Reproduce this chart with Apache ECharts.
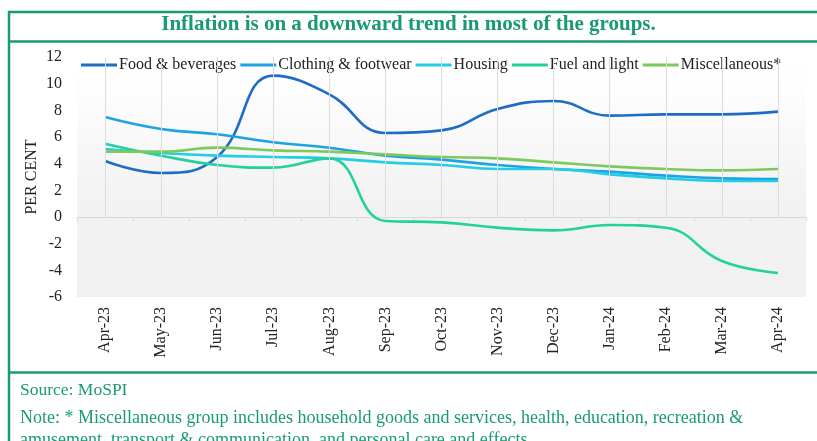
<!DOCTYPE html>
<html>
<head>
<meta charset="utf-8">
<script src="https://cdn.jsdelivr.net/npm/echarts@6/dist/echarts.min.js"></script>
<style>
  html, body { margin: 0; padding: 0; background: #fff; }
  #chart { width: 817px; height: 441px; }
</style>
</head>
<body>
<div id="chart"></div>
<script>
// months on the x axis
var months = ['Apr-23', 'May-23', 'Jun-23', 'Jul-23', 'Aug-23', 'Sep-23', 'Oct-23',
  'Nov-23', 'Dec-23', 'Jan-24', 'Feb-24', 'Mar-24', 'Apr-24']
var yTicks = [-6, -4, -2, 0, 2, 4, 6, 8, 10, 12]

// inflation by group, per cent
var food = [4.2, 3.3, 4.5, 10.6, 9.2, 6.3, 6.5, 8.1, 8.7, 7.6, 7.7, 7.7, 7.9]
var clothing = [7.5, 6.6, 6.2, 5.6, 5.2, 4.6, 4.3, 3.9, 3.6, 3.4, 3.1, 2.9, 2.85]
var housing = [5.1, 4.8, 4.6, 4.5, 4.4, 4.1, 3.9, 3.6, 3.6, 3.2, 2.9, 2.7, 2.7]
var fuel = [5.5, 4.6, 3.9, 3.7, 4.4, -0.3, -0.4, -0.8, -1.0, -0.6, -0.8, -3.3, -4.2]
var misc = [4.9, 4.9, 5.2, 5.0, 4.9, 4.7, 4.5, 4.4, 4.1, 3.8, 3.6, 3.5, 3.6]

var green = '#1a9a74'
var serif = '"Liberation Serif", "Times New Roman", serif'

var chart = echarts.init(document.getElementById('chart'))

function line (name, data, color) {
  return {
    name: name,
    type: 'line',
    data: data,
    smooth: 0.45,
    symbol: 'none',
    lineStyle: { width: 2.6, color: color },
    itemStyle: { color: color }
  }
}

// faint vertical grid lines at each month, drawn from 0 up to the top
var vLines = months.map(function (m) {
  return [{ coord: [m, 0] }, { coord: [m, yTicks[yTicks.length - 1]] }]
})

var series = [
  line('Food & beverages', food, '#1f6cc4'),
  line('Clothing & footwear', clothing, '#1da2e4'),
  line('Housing', housing, '#23cde3'),
  line('Fuel and light', fuel, '#22d19c'),
  line('Miscellaneous*', misc, '#7dc95c')
]
series[0].markLine = {
  silent: true,
  symbol: 'none',
  label: { show: false },
  lineStyle: { color: '#dcdcdc', width: 1, type: 'solid' },
  data: vLines
}
series[0].z = 3

var option = {
  animation: false,
  backgroundColor: '#fff',
  textStyle: { fontFamily: serif },
  legend: {
    left: 76,
    top: 52,
    icon: 'rect',
    itemWidth: 36,
    itemHeight: 3,
    itemGap: 4,
    textStyle: { fontFamily: serif, fontSize: 16, color: '#222', padding: [0, 0, 0, -3] },
    data: series.map(function (s) { return s.name })
  },
  grid: {
    left: 77,
    right: 11,
    top: 57,
    bottom: 144,
    show: true,
    borderWidth: 0,
    backgroundColor: {
      type: 'linear', x: 0, y: 0, x2: 0, y2: 1,
      colorStops: [
        { offset: 0, color: '#ffffff' },
        { offset: 0.15, color: '#fdfdfd' },
        { offset: 0.6, color: '#f2f2f2' },
        { offset: 1, color: '#f1f1f1' }
      ]
    }
  },
  xAxis: [
    {
      type: 'category',
      data: months,
      boundaryGap: true,
      axisLine: { onZero: false, show: false },
      axisTick: { show: false },
      splitLine: { show: false },
      axisLabel: {
        rotate: 90,
        margin: 10,
        fontFamily: serif,
        fontSize: 16,
        color: '#222'
      }
    },
    {
      type: 'category',
      data: months,
      boundaryGap: true,
      position: 'bottom',
      axisLine: { onZero: true, lineStyle: { color: '#d9d9d9', width: 1 } },
      axisTick: { show: true, length: 4, lineStyle: { color: '#d9d9d9' } },
      axisLabel: { show: false },
      splitLine: { show: false }
    }
  ],
  yAxis: {
    type: 'value',
    min: yTicks[0],
    max: yTicks[yTicks.length - 1],
    interval: 2,
    name: 'PER CENT',
    nameLocation: 'middle',
    nameGap: 37,
    nameMoveOverlap: false,
    nameTextStyle: { fontFamily: serif, fontSize: 16, color: '#222' },
    axisLine: { show: false },
    axisTick: { show: false },
    splitLine: { show: false },
    axisLabel: { margin: 15, fontFamily: serif, fontSize: 16, color: '#222' }
  },
  graphic: [
    // frame
    { type: 'rect', shape: { x: 9, y: 12, width: 830, height: 440 },
      style: { fill: 'none', stroke: green, lineWidth: 2.5 }, silent: true },
    { type: 'line', shape: { x1: 9, y1: 41.5, x2: 817, y2: 41.5 },
      style: { stroke: green, lineWidth: 2.5 }, silent: true },
    { type: 'line', shape: { x1: 9, y1: 372.5, x2: 817, y2: 372.5 },
      style: { stroke: green, lineWidth: 2.5 }, silent: true },
    { type: 'text', left: 'center', top: 14,
      style: { text: 'Inflation is on a downward trend in most of the groups.',
        fill: green, font: 'bold 21px ' + serif } },
    { type: 'text', left: 20, top: 381,
      style: { text: 'Source: MoSPI', fill: green, font: '17.5px ' + serif } },
    { type: 'text', left: 20, top: 407,
      style: { text: 'Note: * Miscellaneous group includes household goods and services, health, education, recreation &\namusement, transport & communication, and personal care and effects.',
        fill: green, font: '18px ' + serif, lineHeight: 22 } }
  ],
  series: series
}

chart.setOption(option)
</script>
</body>
</html>
